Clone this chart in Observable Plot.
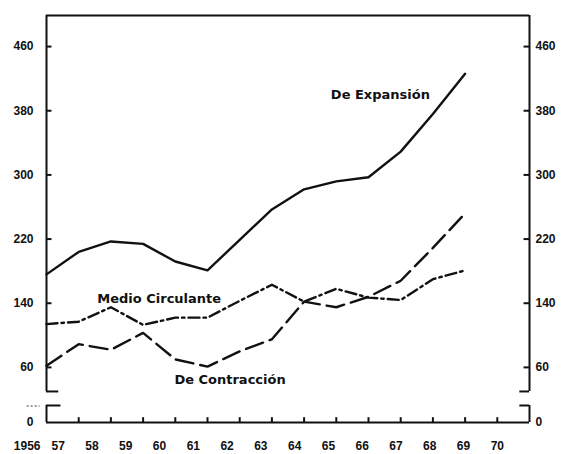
<!DOCTYPE html>
<html><head><meta charset="utf-8">
<script src="https://cdn.jsdelivr.net/npm/d3@7"></script>
<script src="https://cdn.jsdelivr.net/npm/@observablehq/plot@0.6"></script>
<style>
body{margin:0;background:#fff}
#chart{width:564px;height:454px}
</style></head><body><div id="chart"></div>
<script>
// ---- data ----
const years = [1956,1957,1958,1959,1960,1961,1962,1963,1964,1965,1966,1967,1968,1969];
const deExpansion     = [176,204,217,214,192,181,219,257,282,292,297,329,376,426];
const deContraccion   = [62,89,82,103,70,61,80,95,142,135,148,168,209,252];
const medioCirculante = [114,117,135,113,122,122,143,163,142,158,147,144,170,181];
const yTickValues = [60,140,220,300,380,460];
const yZeroLabel = "0";
const xTickYears  = [1956,1957,1958,1959,1960,1961,1962,1963,1964,1965,1966,1967,1968,1969,1970];
const xTickLabels = ["1956","57","58","59","60","61","62","63","64","65","66","67","68","69","70"];
const seriesNames = ["De Expansión","Medio Circulante","De Contracción"];

const rows = s => years.map((year, i) => ({year, value: s[i]}));

// broken y axis: the "0" baseline is drawn on a short strip below the break
const X0 = 1956, X1 = 1971, YTOP = 498.75;
const ZERO_AT = -8.7, STRIP_TOP = 12.5, MAIN_BOTTOM = 30;
const font = "Liberation Sans, Arial, sans-serif";
const labelFont = "DejaVu Sans, Verdana, sans-serif";
const frame = {stroke: "#111", strokeWidth: 2};
const yTicksAll = [ZERO_AT, ...yTickValues];
const yFmt = d => d === ZERO_AT ? yZeroLabel : String(d);

// the hand-lettered year labels drift left of their ticks toward the start
const LABEL_DRIFT = 0.049;
const xLabelRows = xTickLabels.map((label, i) => ({label, year: xTickYears[i]}));
const labelX = d => d.year - (1970 - d.year) * LABEL_DRIFT;

const annotations = [
  {label: seriesNames[0], year: 1966.37, value: 400},
  {label: seriesNames[1], year: 1959.5, value: 145},
  {label: seriesNames[2], year: 1961.7, value: 45}
];

const chart = Plot.plot({
  width: 564, height: 454,
  marginLeft: 46, marginRight: 35, marginTop: 15, marginBottom: 32,
  style: {fontFamily: font, fontWeight: "bold", fontSize: "12px", color: "#111", background: "#fff"},
  x: {domain: [X0, X1], axis: null, label: null},
  y: {domain: [ZERO_AT, YTOP], axis: null, label: null},
  marks: [
    // frame of main panel
    Plot.ruleY([YTOP], {x1: X0, x2: X1, ...frame}),
    Plot.ruleX([X0, X1], {y1: MAIN_BOTTOM, y2: YTOP, ...frame}),
    Plot.ruleY([MAIN_BOTTOM], {x1: X0, x2: X0 + 0.38, ...frame}),
    Plot.ruleY([MAIN_BOTTOM], {x1: X1 - 0.3, x2: X1, ...frame}),
    // lower strip
    Plot.ruleX([X0, X1], {y1: ZERO_AT, y2: STRIP_TOP, ...frame}),
    Plot.ruleY([STRIP_TOP], {x1: X0, x2: X0 + 0.45, ...frame}),
    Plot.ruleY([STRIP_TOP], {x1: X1 - 0.3, x2: X1, ...frame}),
    Plot.ruleY([ZERO_AT], {x1: X0, x2: X1, ...frame}),
    // little break mark left of the axis
    Plot.ruleY([STRIP_TOP - 0.6], {x1: X0 - 0.6, x2: X0 - 0.2, stroke: "#333", strokeWidth: 1, strokeDasharray: "2,2"}),
    // inward ticks
    Plot.ruleY(yTickValues, {x1: X0, x2: X0 + 0.17, ...frame}),
    Plot.ruleY(yTickValues, {x1: X1 - 0.17, x2: X1, ...frame}),
    Plot.ruleX(xTickYears.slice(1), {y1: ZERO_AT, y2: ZERO_AT + 6, ...frame}),
    // axis labels
    Plot.axisY(yTicksAll, {anchor: "left", tickSize: 0, tickPadding: 13, tickFormat: yFmt, label: null, fontWeight: "bold", fontSize: 12}),
    Plot.axisY(yTicksAll, {anchor: "right", tickSize: 0, tickPadding: 6, tickFormat: yFmt, label: null, fontWeight: "bold", fontSize: 12}),
    Plot.text(xLabelRows.slice(0, 1), {x: "year", y: ZERO_AT, text: "label", dy: 24, dx: -6, textAnchor: "end", fontSize: 12, fontWeight: "bold", fill: "#111", style: "letter-spacing:0.5px"}),
    Plot.text(xLabelRows.slice(1), {x: labelX, y: ZERO_AT, text: "label", dy: 24, fontSize: 12, fontWeight: "bold", fill: "#111"}),
    // series
    Plot.line(rows(deExpansion), {x: "year", y: "value", stroke: "#111", strokeWidth: 2.4}),
    Plot.line(rows(deContraccion), {x: "year", y: "value", stroke: "#111", strokeWidth: 2.4, strokeDasharray: "18,7"}),
    Plot.line(rows(medioCirculante), {x: "year", y: "value", stroke: "#111", strokeWidth: 2.4, strokeDasharray: "11,4,2.5,4"}),
    Plot.text(annotations, {x: "year", y: "value", text: "label", fontFamily: labelFont, fontSize: 13, fontWeight: "bold", fill: "#111", style: "letter-spacing:2.4px"})
  ]
});
document.getElementById("chart").appendChild(chart);
</script>
</body></html>
